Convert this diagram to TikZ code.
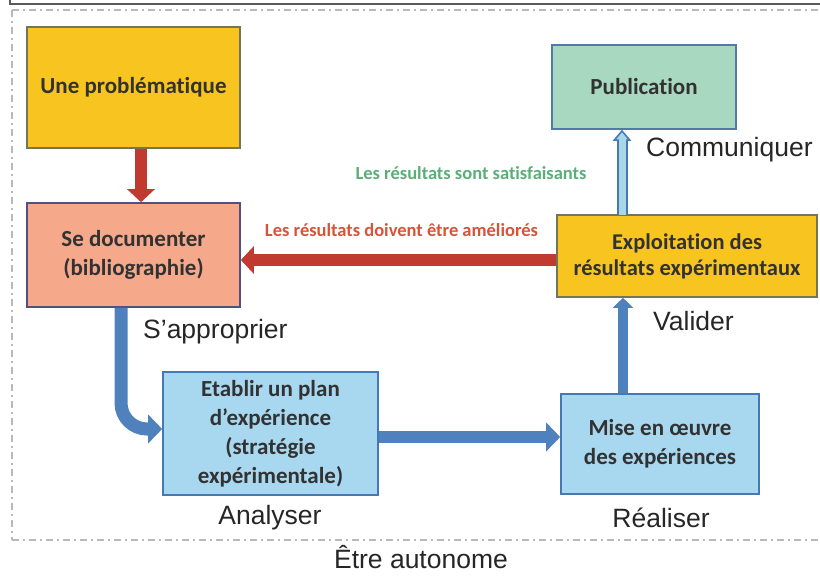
\documentclass[tikz,border=0pt]{standalone}
\usepackage{fontspec}
\setmainfont{Carlito}[Ligatures=NoCommon]
\newfontfamily\arialf{Liberation Sans}
\usetikzlibrary{arrows.meta,calc}
\definecolor{cyellow}{RGB}{248,197,32}
\definecolor{csalmon}{RGB}{245,168,138}
\definecolor{cblue}{RGB}{168,216,240}
\definecolor{cgreen}{RGB}{168,216,192}
\definecolor{bdgray}{RGB}{100,100,100}
\definecolor{bdblue}{RGB}{70,120,180}
\definecolor{arblue}{RGB}{79,129,189}
\definecolor{arred}{RGB}{192,58,48}
\definecolor{lblred}{RGB}{214,84,56}
\definecolor{lblgreen}{RGB}{90,175,120}
\definecolor{txt}{RGB}{50,50,50}
\definecolor{frame}{RGB}{185,185,185}
\tikzset{
  boxstyle/.style={draw, line width=1.6pt, rectangle, align=center, inner sep=0pt,
     text=txt, font=\fontsize{23}{29}\selectfont\bfseries},
  redarrow/.style={draw=arred, line width=12pt, -{Triangle[length=13pt,width=27pt]}},
  bluearrow/.style={draw=arblue, line width=13pt, -{Triangle[length=14pt,width=28pt]}},
  steplabel/.style={font=\arialf\fontsize{26.5}{30}\selectfont, text=black!85, inner sep=0pt},
  cmtlabel/.style={font=\fontsize{18.5}{22}\selectfont\bfseries, inner sep=0pt},
  framedash/.style={draw=frame, line width=1.3pt, dash pattern=on 7pt off 4pt on 2pt off 4pt},
}
\begin{document}
\begin{tikzpicture}[x=1pt,y=-1pt]
\useasboundingbox (0,0) rectangle (820,576);
\fill[white] (0,0) rectangle (820,576);
% frame lines
\draw[gray!70!black, line width=1.2pt] (10,0) -- (10,4) -- (820,4);
\draw[framedash] (12,10) -- (820,10);
\draw[framedash] (12,10) -- (12,540);
\draw[framedash] (12,540) -- (820,540);
% boxes
\node[boxstyle, fill=cyellow, draw=bdgray!90!yellow, minimum width=213pt, minimum height=121pt] (prob) at (133.5,87.5) {Une problématique};
\node[boxstyle, fill=csalmon, draw=bdgray!80!blue, minimum width=213pt, minimum height=104pt] (doc) at (133.5,255) {Se documenter\\(bibliographie)};
\node[boxstyle, fill=cblue, draw=bdblue, minimum width=215pt, minimum height=123pt] (etab) at (270.5,433.5) {Etablir un plan\\d’expérience\\(stratégie\\expérimentale)};
\node[boxstyle, fill=cblue, draw=bdblue, minimum width=198pt, minimum height=100pt] (mise) at (660,444) {Mise en œuvre\\des expériences};
\node[boxstyle, fill=cyellow, draw=bdgray!90!yellow, minimum width=260pt, minimum height=82pt, font=\fontsize{22.5}{26}\selectfont\bfseries] (expl) at (687,256) {Exploitation des\\résultats expérimentaux};
\node[boxstyle, fill=cgreen, draw=bdblue!80!gray, minimum width=184pt, minimum height=84pt] (pub) at (644,87) {Publication};
% arrows
\draw[redarrow] ([xshift=7.5pt]prob.south) -- ([xshift=7.5pt]doc.north);
\draw[redarrow] ([yshift=-4pt]expl.west) -- ([yshift=-5pt]doc.east);
\draw[bluearrow, rounded corners=26pt] ([xshift=-12.5pt]doc.south) -- ([xshift=-12.5pt,yshift=4.5pt]doc.south |- etab.west) -- ([yshift=4.5pt]etab.west);
\draw[bluearrow, line width=12pt] ([yshift=-3.5pt]etab.east) -- ([yshift=7pt]mise.west);
\draw[arblue, line width=10pt, -{Triangle[length=10pt,width=20pt]}] ([xshift=-37pt]mise.north) -- ([xshift=-64pt]expl.south);
% hollow arrow
\draw[bdblue, line width=11pt, -{Triangle[length=11pt,width=18pt]}] ([xshift=-65pt]expl.north) -- ([xshift=-22pt]pub.south);
\draw[cblue!80!cgreen, line width=7pt, -{Triangle[length=7pt,width=11pt]}, shorten >=2.5pt] ([xshift=-65pt,yshift=-1pt]expl.north) -- ([xshift=-22pt]pub.south);
% labels
\node[steplabel, anchor=west] (lappr) at (143,332) {S’approprier};
\node[steplabel] (lanal) at (270,518) {Analyser};
\node[steplabel] (lreal) at (661,518) {Réaliser};
\node[steplabel, anchor=west] (lvalid) at (653,321) {Valider};
\node[steplabel, anchor=west] (lcomm) at (646,150) {Communiquer};
\node[steplabel] (lauto) at (421,557) {Être autonome};
\node[cmtlabel, text=lblred] (lamel) at (401.5,230) {Les résultats doivent être améliorés};
\node[cmtlabel, text=lblgreen] (lsat) at (471,173) {Les résultats sont satisfaisants};
\end{tikzpicture}
\end{document}
